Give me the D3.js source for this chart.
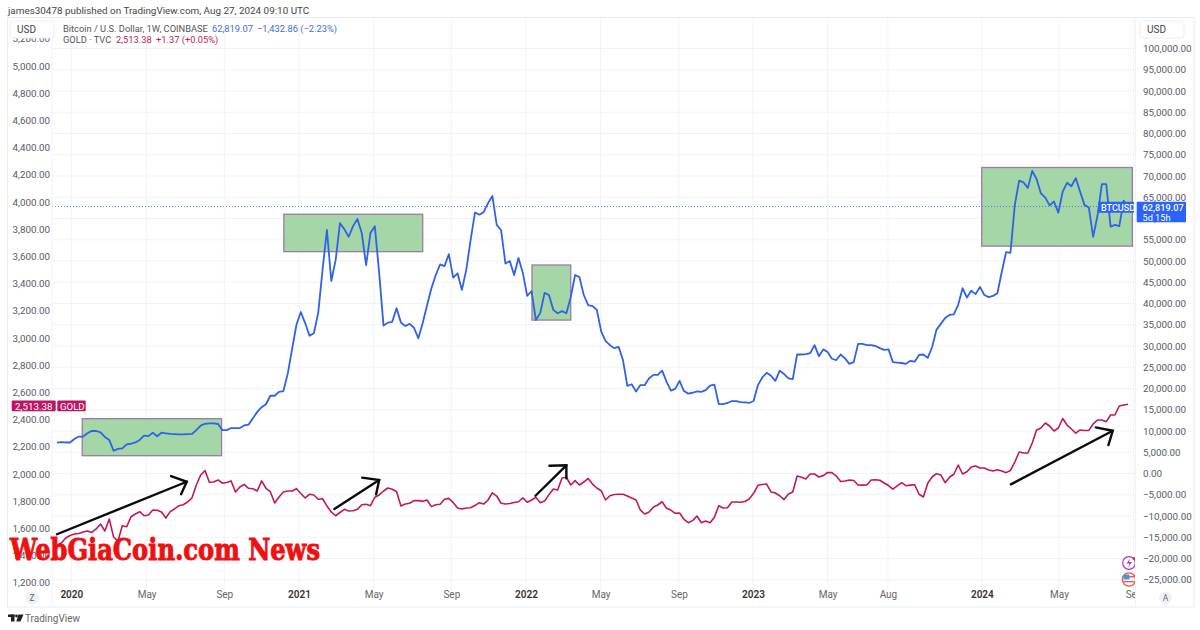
<!DOCTYPE html>
<html><head><meta charset="utf-8">
<script src="https://cdn.jsdelivr.net/npm/d3@7"></script>
<style>html,body{margin:0;padding:0;background:#fff}svg{display:block}text{font-family:Roboto,sans-serif}</style>
</head><body><svg id="c" width="1200" height="630"></svg>
<script>
const btcValues=[7250,7400,7300,7300,8100,8700,8700,9450,10050,10000,
9700,8600,7900,5350,5800,5900,6850,7000,7300,7900,
8900,8800,9600,8750,9600,9450,9300,9250,9200,9200,
9250,9300,10200,11250,11700,11800,11800,11650,10200,10200,
10700,10700,10700,11300,11500,13000,14500,15600,16300,18300,
18300,19200,19400,23500,29300,35000,38000,35400,32400,33000,
37800,48000,57300,45300,50200,58900,57500,55700,58200,59900,
56600,49000,56600,58200,47200,34800,35500,35700,38900,35500,
34700,35200,34300,31800,35400,39600,43600,46700,49200,48800,
51600,46100,47100,43200,47900,54900,61400,60900,61500,63600,
65300,58500,57300,49400,50000,46700,50700,47200,41800,42900,
36100,37800,42500,42000,38500,37700,38200,37700,41500,46700,
46200,42000,39600,39400,38500,33400,31200,30200,29500,29800,
26700,20600,21000,19300,20800,20800,22400,23200,23200,24200,
21600,19500,19900,21800,19400,18800,19000,19300,19200,19600,
20700,20900,16350,16300,16600,17050,17050,16800,16750,16600,
17050,20800,22600,23700,23000,21800,24200,23400,22400,22200,
28000,28000,28100,28300,30200,27600,29200,28600,27000,26700,
28000,27100,25800,26200,30500,30500,30200,30200,30000,29500,
29100,29200,26200,26100,26000,25800,26500,26300,27900,28000,
27200,29700,33800,35200,36600,37300,37450,39700,43600,41400,
43000,42200,43900,42000,41500,41800,42400,47400,52100,51900,
63200,68900,68500,67200,71200,69300,65900,64900,63100,64000,
61400,66300,68400,67600,69500,66300,63200,62600,55700,60700,
68100,68100,58100,58500,58200,64200,62819.07];
const goldValues=[1478,1493,1529,1548,1559,1562,1574,1581,1570,1596,
1632,1581,1669,1537,1507,1620,1612,1686,1706,1723,
1693,1699,1735,1733,1721,1676,1723,1743,1767,1774,
1794,1824,1919,1993,2026,1939,1941,1956,1932,1938,
1949,1868,1904,1923,1895,1892,1875,1949,1895,1870,
1787,1831,1868,1875,1875,1892,1857,1824,1851,1846,
1814,1818,1765,1721,1693,1717,1740,1728,1730,1740,
1774,1777,1767,1829,1846,1875,1897,1888,1870,1765,
1779,1785,1804,1804,1799,1809,1760,1774,1777,1814,
1821,1790,1750,1743,1750,1752,1768,1789,1779,1809,
1862,1838,1785,1779,1783,1790,1796,1824,1792,1809,
1829,1789,1801,1848,1890,1882,1971,1976,1919,1951,
1919,1941,1967,1926,1897,1877,1809,1840,1849,1851,
1851,1838,1824,1809,1735,1706,1721,1757,1772,1796,
1748,1735,1711,1713,1667,1642,1657,1691,1642,1654,
1642,1682,1767,1750,1752,1794,1794,1792,1798,1816,
1858,1917,1923,1926,1868,1860,1840,1812,1853,1868,
1985,1976,1963,2000,2000,1978,1988,2011,2010,1985,
1945,1949,1956,1952,1919,1918,1919,1956,1958,1954,
1934,1915,1888,1912,1936,1914,1918,1921,1851,1831,
1932,1978,2002,1993,1936,1976,1998,2066,2000,2017,
2051,2059,2044,2044,2029,2022,2032,2022,2010,2026,
2088,2162,2154,2154,2228,2324,2338,2375,2353,2316,
2338,2408,2360,2331,2301,2324,2320,2321,2368,2397,
2397,2385,2434,2434,2500,2507,2513.38];
const leftTicks=[1200,1400,1600,1800,2000,2200,2400,2600,2800,3000,3200,3400,3600,3800,4000,4200,4400,4600,4800,5000,5200];
const rightTicks=[-25000,-20000,-15000,-10000,-5000,0,5000,10000,15000,20000,25000,30000,35000,40000,45000,50000,55000,60000,65000,70000,75000,80000,85000,90000,95000,100000];
const timeLabels=[["2020-01-01","2020",1],["2020-05-01","May",0],["2020-09-03","Sep",0],["2021-01-01","2021",1],["2021-05-01","May",0],["2021-09-03","Sep",0],["2022-01-01","2022",1],["2022-05-01","May",0],["2022-09-04","Sep",0],["2023-01-01","2023",1],["2023-05-01","May",0],["2023-08-06","Aug",0],["2024-01-04","2024",1],["2024-05-07","May",0],["2024-09-04","Sep",0]];
// annotation rectangles: week index from/to, BTC price top/bottom
const boxWeeks=[[5.8,37.8],[52.1,84],[109.1,118],[212.4,247]];
const boxPrices=[[12900,4190],[61000,52200],[49060,36100],[72000,53500]];
// arrows: week index / gold price — start, tip, arm, arm
const arrowPoints=[
 [[0,1557],[29.8,1943],[26.2,1985],[28.5,1851]],
 [[63.7,1743],[74,1956],[70.1,1973],[73.3,1851]],
 [[109.9,1840],[117,2064],[113.1,2061],[117,1968]],
 [[219.1,1924],[242.5,2318],[238.6,2343],[241.5,2213]]];

const svg=d3.select("#c");
const t0=Date.UTC(2019,11,9), wk=7*864e5;
const dateOf=i=>new Date(t0+i*wk);
const x=d3.scaleUtc().domain([dateOf(0),dateOf(246)]).range([57,1128]);
const yGold=d3.scaleLinear().domain([1200,5200]).range([582.8,38.8]);
const yBtc=d3.scaleLinear().domain([-25000,100000]).range([579.75,48.5]);
const L=52,R=1135,T=18,B=590;

// grid
const grid=svg.append("g").attr("stroke","#f1f3f8").attr("stroke-width",1);
rightTicks.forEach(v=>grid.append("line").attr("x1",L).attr("x2",R).attr("y1",yBtc(v)).attr("y2",yBtc(v)));
timeLabels.forEach(d=>grid.append("line").attr("x1",x(new Date(d[0]))).attr("x2",x(new Date(d[0]))).attr("y1",T).attr("y2",B));

// boxes
svg.append("g").selectAll("rect").data(boxWeeks).join("rect")
 .attr("x",d=>x(dateOf(d[0]))).attr("width",d=>x(dateOf(d[1]))-x(dateOf(d[0])))
 .attr("y",(d,i)=>yBtc(boxPrices[i][0])).attr("height",(d,i)=>yBtc(boxPrices[i][1])-yBtc(boxPrices[i][0]))
 .attr("fill","#a5d6a7").attr("stroke","#9c7aa8").attr("stroke-width",1.3);

// price line
svg.append("line").attr("x1",L).attr("x2",1098).attr("y1",yBtc(62819.07)).attr("y2",yBtc(62819.07))
 .attr("stroke","#2962ff").attr("stroke-width",1).attr("stroke-dasharray","1 2").attr("opacity",.75);

// series
const lineOf=(y)=>d3.line().x((d,i)=>x(dateOf(i))).y(d=>y(d));
svg.append("path").datum(goldValues).attr("d",lineOf(yGold)).attr("fill","none").attr("stroke","#c2185b").attr("stroke-width",1.6).attr("stroke-linejoin","round");
svg.append("path").datum(btcValues).attr("d",lineOf(yBtc)).attr("fill","none").attr("stroke","#2f62e6").attr("stroke-width",1.8).attr("stroke-linejoin","round");

// arrows
const arrowG=svg.append("g").attr("stroke","#0b0b0b").attr("stroke-width",2.4).attr("fill","none").attr("stroke-linecap","round");
const ap=p=>[x(dateOf(p[0])),yGold(p[1])];
arrowPoints.forEach(a=>{
 arrowG.append("path").attr("d",d3.line()([ap(a[0]),ap(a[1])]));
 arrowG.append("path").attr("d",d3.line()([ap(a[2]),ap(a[1]),ap(a[3])]));
});

// right panel covers, frame
svg.append("rect").attr("x",R).attr("y",T).attr("width",59).attr("height",B-T+17).attr("fill","#fff");
svg.append("rect").attr("x",7.5).attr("y",T-.5).attr("width",1186.5).attr("height",589.5).attr("fill","none").attr("stroke","#e9ebf0");
svg.append("line").attr("x1",R+.5).attr("x2",R+.5).attr("y1",T).attr("y2",607).attr("stroke","#f1f3f8");
svg.append("line").attr("x1",L).attr("x2",L).attr("y1",T).attr("y2",607).attr("stroke","#f1f3f8");

// axes
const fmt=d3.format(",.2f");
const fmtMinus=v=>(v<0?"\u2212":"")+fmt(Math.abs(v));
const axL=svg.append("g").attr("transform","translate(50,0)").call(d3.axisLeft(yGold).tickValues(leftTicks).tickSize(0).tickPadding(0).tickFormat(fmt));
const axR=svg.append("g").attr("transform","translate(1143,0)").call(d3.axisRight(yBtc).tickValues(rightTicks).tickSize(0).tickPadding(0).tickFormat(fmtMinus));
[axL,axR].forEach(a=>{a.select(".domain").remove();a.selectAll("text").attr("fill","#555a66").style("font-size","9.8px").style("font-family","Roboto,sans-serif");});

const clipId="tclip";
svg.append("clipPath").attr("id",clipId).append("rect").attr("x",L).attr("y",585).attr("width",R-L).attr("height",25);
const axB=svg.append("g").attr("clip-path",`url(#${clipId})`);
const axBi=axB.append("g").attr("transform","translate(0,591)").call(d3.axisBottom(x).tickValues(timeLabels.map(d=>new Date(d[0]))).tickSize(0).tickPadding(0).tickFormat((d,i)=>timeLabels[i][1]));
axBi.select(".domain").remove();
axBi.selectAll("text").attr("dy","0.71em").style("font-family","Roboto,sans-serif").style("font-size","10px").attr("fill",(d,i)=>timeLabels[i][2]?"#333":"#666").style("font-weight",(d,i)=>timeLabels[i][2]?"600":"400");

// USD buttons
[[10,"USD"],[1140,"USD"]].forEach(([bx,t])=>{
 svg.append("rect").attr("x",bx).attr("y",21).attr("width",44).attr("height",17).attr("rx",3).attr("fill","#fff").attr("stroke","#eceef2");
 svg.append("text").attr("x",bx+7).attr("y",33).attr("fill","#444").style("font-size","10px").text(t);
});

// header
const txt=(x0,y0,t,col,size,extra)=>{const e=svg.append("text").attr("x",x0).attr("y",y0).attr("fill",col).style("font-size",size+"px").text(t);if(extra)extra(e);return e;};
txt(8,13.5,"james30478 published on TradingView.com, Aug 27, 2024 09:10 UTC","#444",9.9);
txt(63,31.5,"Bitcoin / U.S. Dollar, 1W, COINBASE","#555",9.3);
txt(212,31.5,"62,819.07","#3a6ee0",9.3);
txt(257,31.5,"\u22121,432.86 (\u22122.23%)","#3a6ee0",9.3);
txt(63,42.5,"GOLD \u00b7 TVC","#555",9.3);
txt(116,42.5,"2,513.38","#c2185b",9.3);
txt(156,42.5,"+1.37 (+0.05%)","#c2185b",9.3);

// price tags
const tag=(x0,y0,w,h,col)=>svg.append("rect").attr("x",x0).attr("y",y0).attr("width",w).attr("height",h).attr("rx",1).attr("fill",col);
tag(11.7,400.5,44,10.8,"#bb1565"); tag(57.3,400.5,28.4,10.8,"#bb1565");
txt(15,409.5,"2,513.38","#fff",9.8);
txt(60,409.5,"GOLD","#fff",9.6);
tag(1098.3,201.7,35.7,11,"#2962ff"); tag(1136.7,201.7,49.3,20.5,"#2962ff");
txt(1101,211,"BTCUSD","#fff",9,e=>e.style("font-weight",500));
txt(1142.5,210.5,"62,819.07","#fff",9.2,e=>e.style("font-weight",500));
txt(1142.5,220.5,"5d 15h","#fff",9.2);

// Z / A buttons
[[32,"Z"],[1165.5,"A"]].forEach(([cx,t])=>{
 svg.append("circle").attr("cx",cx).attr("cy",598).attr("r",6.5).attr("fill","#eff1f5");
 svg.append("text").attr("x",cx).attr("y",601).attr("text-anchor","middle").attr("fill","#666").style("font-size","8.5px").text(t);
});

// event icons (clipped at the axis)
svg.append("clipPath").attr("id","iconclip").append("rect").attr("x",1110).attr("y",550).attr("width",25).attr("height",40);
const ic=svg.append("g").attr("clip-path","url(#iconclip)");
ic.append("circle").attr("cx",1129).attr("cy",563).attr("r",6.3).attr("fill","#fff").attr("stroke","#a43ec0").attr("stroke-width",1.2);
ic.append("path").attr("d","M1130 558.5l-3.5 5h3l-1.5 4 4-5.5h-3z").attr("fill","#a43ec0");
ic.append("circle").attr("cx",1134).attr("cy",558.5).attr("r",1.6).attr("fill","#e53935");
ic.append("circle").attr("cx",1129).attr("cy",579.5).attr("r",6.6).attr("fill","#fff").attr("stroke","#e85a4f").attr("stroke-width",1.4);
ic.append("rect").attr("x",1123.5).attr("y",574.5).attr("width",6).attr("height",5).attr("fill","#4a90e2");
ic.append("rect").attr("x",1129).attr("y",576).attr("width",6).attr("height",1.4).attr("fill","#e85a4f");
ic.append("rect").attr("x",1123.5).attr("y",581).attr("width",11).attr("height",1.4).attr("fill","#e85a4f");

// watermark
svg.append("text").attr("x",10).attr("y",559.5).attr("textLength",310).attr("lengthAdjust","spacingAndGlyphs")
 .attr("fill","#ee1111").attr("stroke","#ee1111").attr("stroke-width",1)
 .style("font-family","'DejaVu Serif',serif").style("font-weight",700).style("font-size","30px").text("WebGiaCoin.com News");

// footer logo
const lg=svg.append("g").attr("fill","#222");
lg.append("rect").attr("x",8).attr("y",614.5).attr("width",6.5).attr("height",2.5);
lg.append("rect").attr("x",11).attr("y",614.5).attr("width",3.5).attr("height",7);
lg.append("circle").attr("cx",16.5).attr("cy",616).attr("r",1.4);
lg.append("path").attr("d","M18.5 614.5h5l-3 7h-4.2z");
txt(25,622,"TradingView","#666",10);
</script></body></html>
